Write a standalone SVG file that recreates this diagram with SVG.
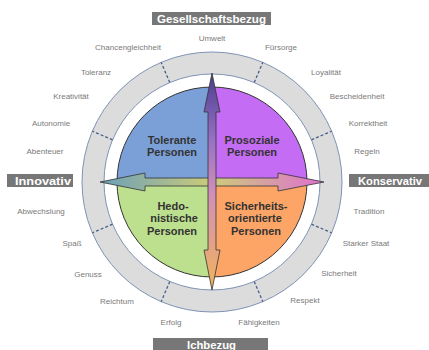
<svg xmlns="http://www.w3.org/2000/svg" width="429" height="350" viewBox="0 0 429 350">
<style>
.lbl{font-family:"Liberation Sans",Arial,sans-serif;font-size:8px;fill:#7a7a7a;text-anchor:middle;dominant-baseline:central}
.q{font-family:"Liberation Sans",Arial,sans-serif;font-size:11px;font-weight:bold;fill:#333;text-anchor:middle;dominant-baseline:central}
.box{fill:#777}
.bt{font-family:"Liberation Sans",Arial,sans-serif;font-size:11.5px;font-weight:bold;fill:#fff;text-anchor:middle;dominant-baseline:central}
.ring{fill:none;stroke:#7f93b5;stroke-width:1}
.dash{stroke:#4a5f8a;stroke-width:1.3;stroke-dasharray:3 2}
.arr{stroke:#333;stroke-width:0.8;stroke-linejoin:miter}
</style>
<defs>
<linearGradient id="gv" x1="0" y1="73" x2="0" y2="290" gradientUnits="userSpaceOnUse">
<stop offset="0" stop-color="#4a3c8c"/>
<stop offset="0.3" stop-color="#9570c4"/>
<stop offset="0.55" stop-color="#d08fb8"/>
<stop offset="1" stop-color="#f2b45a"/>
</linearGradient>
<linearGradient id="gh" x1="100" y1="0" x2="324" y2="0" gradientUnits="userSpaceOnUse">
<stop offset="0" stop-color="#6a9fb8"/>
<stop offset="0.5" stop-color="#cccc7a"/>
<stop offset="1" stop-color="#e070d0"/>
</linearGradient>
</defs>
<g id="ring">
<path d="M212,52 A130,130 0 1,0 212.01,52 Z M212,74 A108,108 0 1,1 211.99,74 Z" fill="#dcdcdc" fill-rule="evenodd"/>
<circle class="ring" cx="212" cy="182" r="130"/>
<circle class="ring" cx="212" cy="182" r="108"/>
<line class="dash" x1="112.6" y1="139.8" x2="92.3" y2="131.2"/>
<line class="dash" x1="311.4" y1="139.8" x2="331.7" y2="131.2"/>
<line class="dash" x1="112.6" y1="224.2" x2="92.3" y2="232.8"/>
<line class="dash" x1="311.4" y1="224.2" x2="331.7" y2="232.8"/>
<line class="dash" x1="169.8" y1="281.4" x2="161.2" y2="301.7"/>
<line class="dash" x1="254.2" y1="281.4" x2="262.8" y2="301.7"/>
<line class="dash" x1="169.8" y1="82.6" x2="161.2" y2="62.3"/>
<line class="dash" x1="254.2" y1="82.6" x2="262.8" y2="62.3"/>
</g>
<g id="q-tolerant">
<path d="M212,182 L117,182 A95,95 0 0,1 212,87 Z" fill="#7ba0d8"/>
<text class="q" x="172" y="140">Tolerante</text>
<text class="q" x="172" y="152">Personen</text>
</g>
<g id="q-prosozial">
<path d="M212,182 L212,87 A95,95 0 0,1 307,182 Z" fill="#c56cf4"/>
<text class="q" x="252" y="140">Prosoziale</text>
<text class="q" x="252" y="152">Personen</text>
</g>
<g id="q-hedonistisch">
<path d="M212,182 L212,277 A95,95 0 0,1 117,182 Z" fill="#bde08e"/>
<text class="q" x="173" y="206">Hedo-</text>
<text class="q" x="174" y="218">nistische</text>
<text class="q" x="172" y="231">Personen</text>
</g>
<g id="q-sicherheit">
<path d="M212,182 L307,182 A95,95 0 0,1 212,277 Z" fill="#fda566"/>
<text class="q" x="256" y="206">Sicherheits-</text>
<text class="q" x="255" y="218">orientierte</text>
<text class="q" x="256" y="231">Personen</text>
</g>
<circle cx="212" cy="182" r="95" fill="none" stroke="#333" stroke-width="1"/>
<g id="connectors">
<polygon class="arr" fill="url(#gh)" points="100,182 145,173 145,178 278,178 278,173 324,182 278,191 278,186 145,186 145,191"/>
<polygon class="arr" fill="url(#gv)" points="212,73 220,112 216,112 216,250 220,250 212,290 204,250 208,250 208,112 204,112"/>
</g>
<g id="axis-top"><rect class="box" x="152" y="12" width="119" height="13"/><text class="bt" x="211.5" y="18.8" textLength="109" lengthAdjust="spacingAndGlyphs">Gesellschaftsbezug</text></g>
<g id="axis-bottom"><rect class="box" x="153" y="338" width="115" height="12"/><text class="bt" x="211.5" y="344.5" textLength="49" lengthAdjust="spacingAndGlyphs">Ichbezug</text></g>
<g id="axis-left"><rect class="box" x="7" y="174" width="66" height="13"/><text class="bt" x="43" y="180.8" textLength="56" lengthAdjust="spacingAndGlyphs">Innovativ</text></g>
<g id="axis-right"><rect class="box" x="349" y="174" width="80" height="13"/><text class="bt" x="390" y="180.8" textLength="64" lengthAdjust="spacingAndGlyphs">Konservativ</text></g>
<g id="values">
<text class="lbl" x="212" y="38">Umwelt</text>
<text class="lbl" x="128" y="47">Chancengleichheit</text>
<text class="lbl" x="281" y="47">Fürsorge</text>
<text class="lbl" x="96" y="72">Toleranz</text>
<text class="lbl" x="71" y="96">Kreativität</text>
<text class="lbl" x="51" y="123">Autonomie</text>
<text class="lbl" x="45" y="151">Abenteuer</text>
<text class="lbl" x="41" y="211">Abwechslung</text>
<text class="lbl" x="72" y="243">Spaß</text>
<text class="lbl" x="88" y="274">Genuss</text>
<text class="lbl" x="117" y="301">Reichtum</text>
<text class="lbl" x="171" y="322">Erfolg</text>
<text class="lbl" x="259" y="322">Fähigkeiten</text>
<text class="lbl" x="326" y="72">Loyalität</text>
<text class="lbl" x="357" y="96">Bescheidenheit</text>
<text class="lbl" x="368" y="123">Korrektheit</text>
<text class="lbl" x="367" y="151">Regeln</text>
<text class="lbl" x="369" y="211">Tradition</text>
<text class="lbl" x="366" y="243">Starker Staat</text>
<text class="lbl" x="339" y="273">Sicherheit</text>
<text class="lbl" x="305" y="300">Respekt</text>
</g>
</svg>
